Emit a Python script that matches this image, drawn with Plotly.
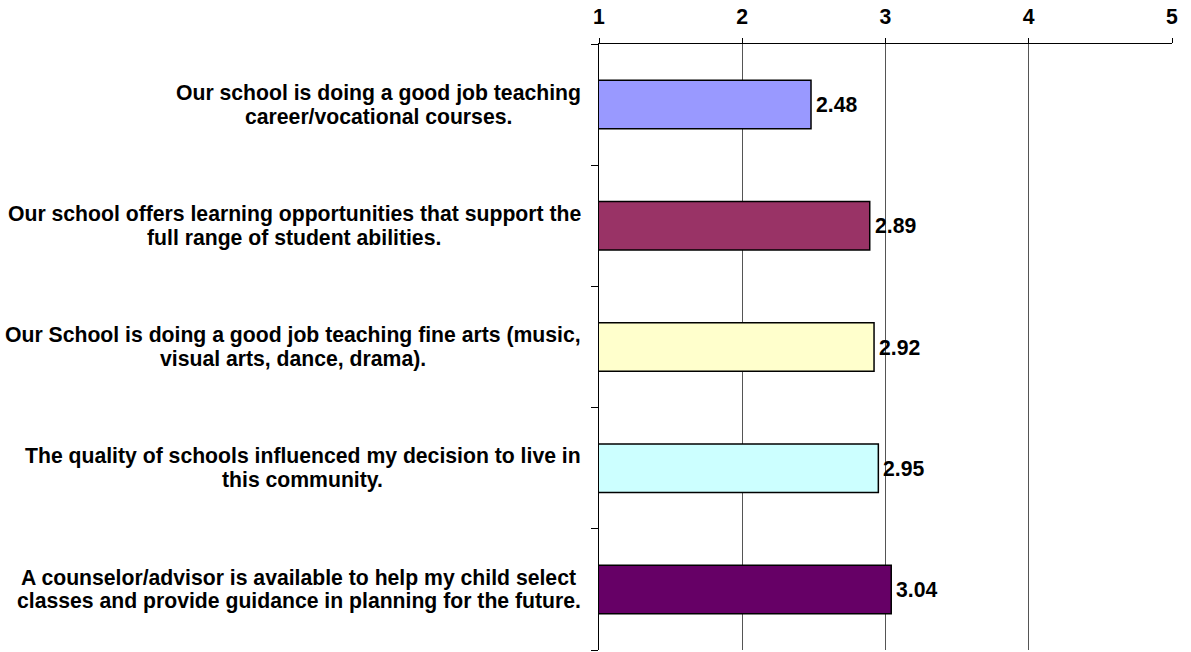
import plotly.graph_objects as go

# Survey statements (top to bottom), each split into its two printed lines,
# with the mean rating on a 1-5 scale
statements = [
    ["Our school is doing a good job teaching",
     "career/vocational courses."],
    ["Our school offers learning opportunities that support the",
     "full range of student abilities."],
    ["Our School is doing a good job teaching fine arts (music,",
     "visual arts, dance, drama)."],
    ["The quality of schools influenced my decision to live in",
     "this community."],
    ["A counselor/advisor is available to help my child select",
     "classes and provide guidance in planning for the future."],
]
means = [2.48, 2.89, 2.92, 2.95, 3.04]
bar_colors = ["#9999FF", "#993366", "#FFFFCC", "#CCFFFF", "#660066"]
scale_ticks = [1, 2, 3, 4, 5]

W, H = 1191, 652
M_L, M_R, M_T, M_B = 599, 19, 44, 2
FONT = "Liberation Sans, Arial, sans-serif"
FS = 21.2
LINE_GAP = 23.5  # distance between the two lines of a statement, px

# Advance widths of bold Arial/Liberation Sans glyphs (per 1000 em),
# used to centre each two-line statement block against the axis.
_BOLD_W = {
    " ": 278, ".": 278, ",": 278, "/": 278, "(": 333, ")": 333, "-": 333,
    "A": 722, "O": 778, "S": 667, "T": 611,
    "a": 556, "b": 611, "c": 556, "d": 611, "e": 556, "f": 333, "g": 611,
    "h": 611, "i": 278, "j": 278, "k": 556, "l": 278, "m": 889, "n": 611,
    "o": 611, "p": 611, "q": 611, "r": 389, "s": 556, "t": 333, "u": 611,
    "v": 556, "w": 778, "x": 556, "y": 556, "z": 500,
}


def text_width(s, size):
    return sum(_BOLD_W.get(ch, 600) for ch in s) * size / 1000.0


cats = list(range(len(statements)))

fig = go.Figure()
fig.add_trace(go.Bar(
    y=cats,
    x=means,
    orientation="h",
    width=0.4,
    marker=dict(color=bar_colors, line=dict(color="black", width=1.5)),
    hoverinfo="x",
))

annotations = []
plot_w = W - M_L - M_R
label_right_px = 581  # right edge of the widest statement line
bold_font = dict(family=FONT, size=FS, color="black", weight="bold")
for i, (lines, v) in enumerate(zip(statements, means)):
    block_w = max(text_width(ln, FS) for ln in lines)
    centre_px = label_right_px - block_w / 2
    centre_paper = (centre_px - M_L) / plot_w
    n = len(lines)
    for j, ln in enumerate(lines):
        annotations.append(dict(
            xref="paper", yref="y", x=centre_paper, y=i,
            text=ln, showarrow=False, xanchor="center", yanchor="middle",
            yshift=((n - 1) / 2 - j) * LINE_GAP,
            font=bold_font,
        ))
    annotations.append(dict(
        xref="x", yref="y", x=v, y=i,
        text=f"{v:.2f}", showarrow=False, xanchor="left", yanchor="middle",
        xshift=3, font=bold_font,
    ))

fig.update_layout(
    width=W, height=H,
    margin=dict(l=M_L, r=M_R, t=M_T, b=M_B, pad=0),
    paper_bgcolor="white", plot_bgcolor="white",
    showlegend=False,
    annotations=annotations,
    xaxis=dict(
        side="top", range=[1, 5], tickvals=scale_ticks,
        ticks="outside", ticklen=5, tickcolor="black", tickwidth=1,
        ticklabelstandoff=6,
        showline=True, linecolor="black", linewidth=1,
        showgrid=True, gridcolor="#555555", gridwidth=1,
        zeroline=False,
        tickfont=bold_font,
    ),
    yaxis=dict(
        range=[len(statements) - 0.5, -0.5],
        tickvals=cats, showticklabels=False,
        tickson="boundaries", type="category",
        ticks="outside", ticklen=7, tickcolor="black", tickwidth=1,
        showline=True, linecolor="black", linewidth=1,
        showgrid=False, zeroline=False,
    ),
)

fig.write_html("out.html")
